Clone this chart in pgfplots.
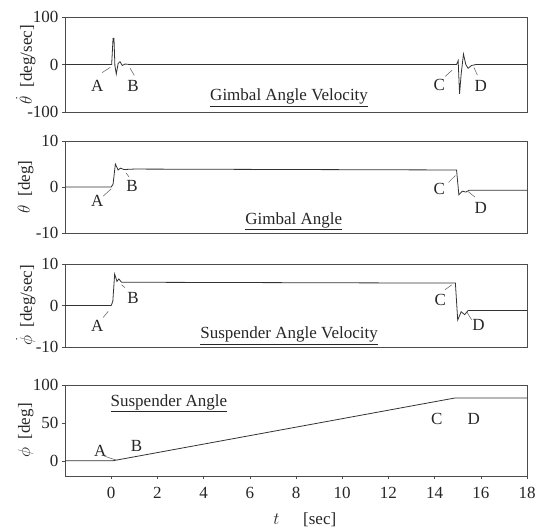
\documentclass[border=0pt]{standalone}
\usepackage{pgfplots}
\pgfplotsset{compat=1.18}
\usepackage{fontspec}
\setmainfont{Liberation Serif}
\tikzset{
  dat/.style={black!80, line width=0.8pt, mark=none},
  lead/.style={black!65, line width=0.5pt},
  lab/.style={text=black!85},
}
\begin{document}
\begin{tikzpicture}[font=\fontsize{17}{20}\selectfont]
\path[use as bounding box] (0,0) rectangle (537pt,-528pt);
\pgfplotsset{
  panel/.style={
    width=462pt, scale only axis, xmin=-2, xmax=18,
    axis line style={black!70, line width=0.6pt},
    tick style={black!70, line width=0.5pt}, tick align=outside, major tick length=3pt,
    xtick pos=lower, ytick pos=left,
    ticklabel style={font=\fontsize{17}{20}\selectfont, text=black!85},
    /pgf/number format/assume math mode=true,
    ylabel style={at={(axis description cs:-0.085,0.5)}, anchor=center, font=\fontsize{17}{20}\selectfont, text=black!85},
    clip=false,
  },
}
% Panel 1: gimbal angle velocity
\begin{axis}[panel, at={(65pt,-17pt)}, anchor=north west, height=95pt,
  ymin=-100, ymax=100, ytick={-100,0,100}, yticklabels={-100,0,100}, xtick=\empty,
  ylabel={$\dot\theta$\enspace[deg/sec]}]
\addplot[dat] coordinates {(-2,0)(0.02,0)(0.08,55)(0.12,55)(0.16,-2)(0.22,-20)(0.3,2)(0.38,6)(0.48,-2)(0.6,1)(0.8,0)(14.95,0)(15.02,8)(15.08,-62)(15.15,-20)(15.25,22)(15.35,0)(15.45,-8)(15.6,-2)(15.8,0)(18,0)};
\node[lab] at (-0.6,-45) {A};
\draw[lead] (-0.39,-17) -- (-0.04,-6);
\node[lab] at (0.95,-45) {B};
\draw[lead] (0.82,-8) -- (1.0,-23);
\node[lab] at (14.2,-42) {C};
\draw[lead] (14.46,-25) -- (14.76,-12);
\node[lab] at (16.0,-45) {D};
\draw[lead] (15.85,-22) -- (15.7,-6);
\node[lab] at (7.7,-70) {\underline{Gimbal Angle Velocity}};
\end{axis}
% Panel 2: gimbal angle
\begin{axis}[panel, at={(65pt,-141pt)}, anchor=north west, height=92pt,
  ymin=-10, ymax=10, ytick={-10,0,10}, yticklabels={-10,0,10}, xtick=\empty,
  ylabel={$\theta$\enspace[deg]}]
\addplot[dat] coordinates {(-2,0)(0.0,0)(0.08,0.6)(0.18,5.0)(0.3,3.7)(0.4,4.1)(0.55,3.8)(1.0,3.9)(14.95,3.7)(15.05,-1.7)(15.2,-0.9)(15.35,-1.1)(15.5,-0.7)(18,-0.7)};
\node[lab] at (-0.6,-3) {A};
\draw[lead] (-0.35,-2) -- (0,-0.4);
\node[lab] at (0.9,0.2) {B};
\draw[lead] (0.65,3) -- (0.77,2.2);
\node[lab] at (14.2,-0.5) {C};
\draw[lead] (14.6,1) -- (14.9,2.5);
\node[lab] at (16.0,-4.5) {D};
\draw[lead] (15.75,-2.2) -- (15.45,-1.0);
\node[lab] at (7.9,-7.4) {\underline{Gimbal Angle}};
\end{axis}
% Panel 3: suspender angle velocity
\begin{axis}[panel, at={(65pt,-264pt)}, anchor=north west, height=83pt,
  ymin=-10, ymax=10, ytick={-10,0,10}, yticklabels={-10,0,10}, xtick=\empty,
  ylabel={$\dot\phi$\enspace[deg/sec]}]
\addplot[dat] coordinates {(-2,0)(0.0,0)(0.07,1)(0.15,7.6)(0.25,5.8)(0.33,6.4)(0.45,5.6)(1.0,5.6)(14.9,5.4)(15.0,-3.5)(15.15,-1.5)(15.3,-2.2)(15.45,-1.2)(18,-1.2)};
\node[lab] at (-0.6,-4.8) {A};
\draw[lead] (-0.35,-2.9) -- (-0.13,-1.4);
\node[lab] at (0.95,1.7) {B};
\draw[lead] (0.45,5) -- (0.6,4.3);
\node[lab] at (14.25,1.4) {C};
\draw[lead] (14.45,3.8) -- (14.75,5);
\node[lab] at (15.9,-4.8) {D};
\draw[lead] (15.4,-1.6) -- (15.6,-3.4);
\node[lab] at (7.7,-7.3) {\underline{Suspender Angle Velocity}};
\end{axis}
% Panel 4: suspender angle
\begin{axis}[panel, at={(65pt,-385pt)}, anchor=north west, height=91pt,
  ymin=-20, ymax=100, ytick={0,50,100}, xtick={0,2,...,18},
  xticklabel style={yshift=-5pt},
  ylabel={$\phi$\enspace[deg]},
  xlabel={$t$\hspace{1.4em}[sec]},
  xlabel style={at={(axis description cs:0.519,-0.48)}, anchor=center, font=\fontsize{17}{20}\selectfont, text=black!85}]
\addplot[dat] coordinates {(-2,0)(0.05,0)(14.9,83)(18,83)};
\node[lab] at (-0.47,13) {A};
\draw[lead] (-0.35,7) .. controls (0,3) .. (0.2,1.3);
\node[lab] at (1.1,20) {B};
\node[lab] at (14.1,55) {C};
\node[lab] at (15.7,55) {D};
\node[lab] at (2.5,76) {\underline{Suspender Angle}};
\end{axis}
\end{tikzpicture}
\end{document}
